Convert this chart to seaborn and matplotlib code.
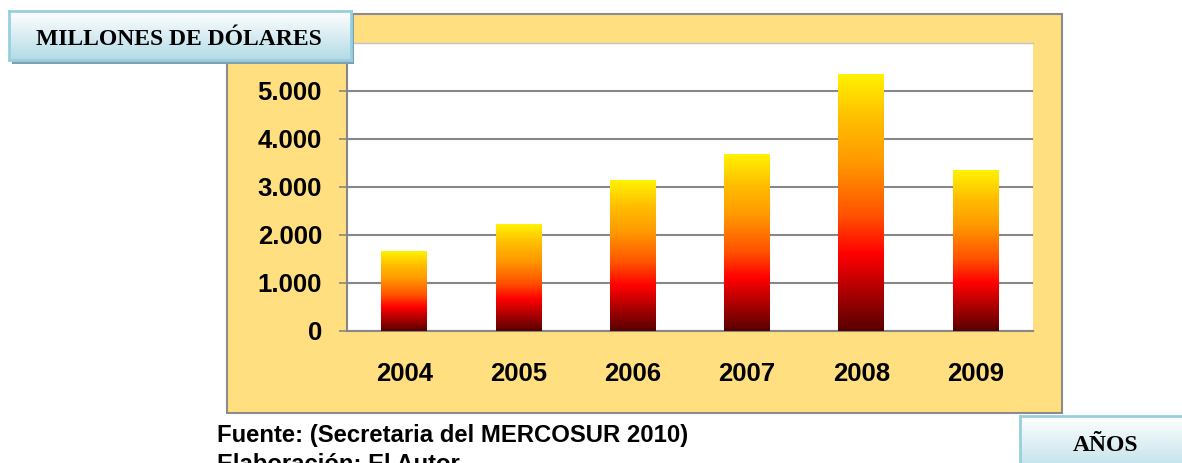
import matplotlib
matplotlib.use("Agg")
import matplotlib.pyplot as plt
import matplotlib.patches as mpatches
from matplotlib.colors import LinearSegmentedColormap
import numpy as np
import pandas as pd
import seaborn as sns

W, H = 1182, 463
YELLOW = "#FFDF80"
GRAY = "#878787"

years = ["2004", "2005", "2006", "2007", "2008", "2009"]
values = [1660, 2225, 3140, 3685, 5355, 3350]
yticks = [0, 1000, 2000, 3000, 4000, 5000]
ytick_labels = ["0", "1.000", "2.000", "3.000", "4.000", "5.000"]

fire = LinearSegmentedColormap.from_list(
    "fire", [(0.0, "#580000"), (0.3, "#ff0000"), (0.45, "#ff5200"),
             (0.66, "#ff9a00"), (0.82, "#ffbc00"), (1.0, "#fff200")])


def fx(px):
    return px / W


def fy(py):
    return 1 - py / H


def label_box(fig, x0, y0, x1, y1, text, tx, ty, size):
    shadow = mpatches.Rectangle((fx(x0 + 3), fy(y1 + 4)), fx(x1 - x0), (y1 - y0) / H,
                                transform=fig.transFigure, facecolor="#7d9fae",
                                edgecolor="none", zorder=5)
    fig.patches.append(shadow)
    bax = fig.add_axes([fx(x0), fy(y1), fx(x1 - x0), (y1 - y0) / H], zorder=6)
    grad = np.linspace(0, 1, 100).reshape(-1, 1)
    cmap = LinearSegmentedColormap.from_list("box", ["#b3dbe6", "#ffffff"])
    bax.imshow(grad, origin="lower", aspect="auto", cmap=cmap, extent=[0, 1, 0, 1])
    bax.set_xticks([])
    bax.set_yticks([])
    for s in bax.spines.values():
        s.set_color("#98cfdf")
        s.set_linewidth(2)
    fig.text(fx(tx), fy(ty), text, ha="center", va="baseline", fontsize=size,
             fontweight="bold", color="black",
             family=["Liberation Serif", "DejaVu Serif"], zorder=7)


sns.set_theme(style="white")
plt.rcParams["font.family"] = ["Liberation Sans", "DejaVu Sans"]

fig = plt.figure(figsize=(W / 100, H / 100), dpi=100)

# yellow chart frame
frame = mpatches.Rectangle((fx(227), fy(413)), fx(1062 - 227), (413 - 14) / H,
                           transform=fig.transFigure, facecolor=YELLOW,
                           edgecolor="#8c8c8c", lw=1.5, zorder=-1)
fig.patches.append(frame)

ax = fig.add_axes([fx(347), fy(330.5), fx(1032.7 - 347), (330.5 - 43) / H], zorder=1)
ax.set_facecolor("white")
df = pd.DataFrame({"year": years, "value": values})
sns.barplot(data=df, x="year", y="value", width=0.4, ax=ax, color="red", saturation=1)

# gradient fill for each bar
grad = np.linspace(0, 1, 256).reshape(-1, 1)
for bar in list(ax.patches):
    x0, y0 = bar.get_x(), bar.get_y()
    w, h = bar.get_width(), bar.get_height()
    ax.imshow(grad, extent=[x0, x0 + w, y0, y0 + h], origin="lower",
              aspect="auto", cmap=fire, zorder=3)
    bar.set_visible(False)

ax.set_xlim(-0.5, 5.5)
ax.set_ylim(0, 6000)
ax.set_yticks(yticks)
ax.set_yticklabels(ytick_labels)
ax.yaxis.grid(True, color=GRAY, lw=1.5)
ax.set_axisbelow(True)
ax.set_xlabel("")
ax.set_ylabel("")

ax.set_xticks(np.arange(-0.5, 6, 1), minor=True)
ax.tick_params(axis="x", which="major", length=0, pad=23, labelsize=18.5)
ax.tick_params(axis="x", which="minor", length=6, width=1.2, color=GRAY, direction="out")
ax.tick_params(axis="y", which="major", length=6, width=1.2, color=GRAY, direction="out",
               pad=12, labelsize=18.5, left=True)
for lab in ax.get_xticklabels() + ax.get_yticklabels():
    lab.set_fontweight("bold")
    lab.set_color("black")

for side in ["left", "bottom"]:
    ax.spines[side].set_color(GRAY)
    ax.spines[side].set_linewidth(1.5)
ax.spines["right"].set_visible(False)
ax.spines["top"].set_color("#c4c4c4")
ax.spines["top"].set_linewidth(1)

label_box(fig, 9, 11, 351, 60, "MILLONES DE DÓLARES", 179, 45, 17)
label_box(fig, 1020, 416, 1200, 480, "AÑOS", 1106, 450.7, 17)

fig.text(fx(217), fy(441.7), "Fuente: (Secretaria del MERCOSUR 2010)", fontsize=17.2,
         fontweight="bold", color="black", va="baseline", ha="left")
fig.text(fx(217), fy(471), "Elaboración: El Autor", fontsize=17.2,
         fontweight="bold", color="black", va="baseline", ha="left")

plt.savefig("out.png", dpi=100)
